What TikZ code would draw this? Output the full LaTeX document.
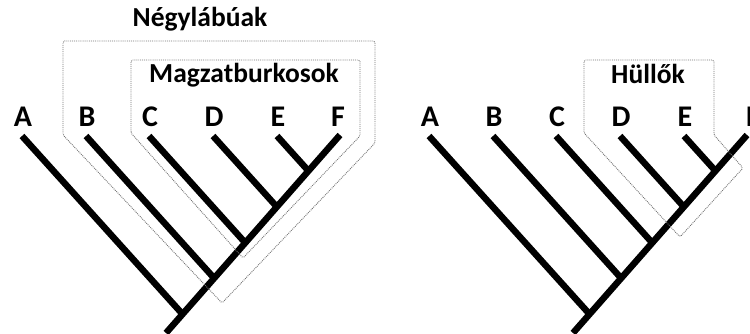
\documentclass[tikz,border=0pt]{standalone}
\usepackage{fontspec}
\setmainfont{Carlito}
\usetikzlibrary{calc}
\begin{document}
\begin{tikzpicture}[x=1pt,y=-1pt,
  branch/.style={line width=6.5pt, line cap=butt},
  clade/.style={densely dotted, draw=black!55, line width=0.9pt, rounded corners=1.5pt},
  taxon/.style={font=\fontsize{30}{32}\selectfont\bfseries, anchor=base, inner sep=0pt},
  groupname/.style={font=\fontsize{27.5}{30}\selectfont\bfseries, anchor=base, inner sep=0pt}]
\useasboundingbox (0,0) rectangle (750,334);

% two identical cladograms, the second shifted to the right
\foreach \t/\dx/\fx in {L/0/338, R/407/346} {
  \begin{scope}[xshift=\dx pt]
    \coordinate (\t root) at (166,333);
    \coordinate (\t F) at (340,135);
    \draw[branch] (\t root) -- (\t F);
    \node[taxon] (\t labF) at (\fx,127) {F};
    \foreach \n/\x in {A/22, B/86, C/149, D/213, E/277} {
      \coordinate (\t\n) at (\x,136);
      \coordinate (\t\n d) at ($(\t\n)+(155,172)$);
      \draw[branch] (\t\n) -- (intersection of \t\n--\t\n d and \t root--\t F);
      \node[taxon] (\t lab\n) at (\x+1,127) {\n};
    }
  \end{scope}
}

% Tetrapoda
\draw[clade] (63,135) -- (63,41) -- (375,41) -- (375,143) -- (222,303) -- cycle;
\node[groupname] (negy) at (200,27) {Négylábúak};

% Amniota
\draw[clade] (131,133) -- (131,60) -- (360,60) -- (360,136) -- (243,258) -- cycle;
\node[groupname] (magz) at (244,83) {Magzatburkosok};

% Reptilia
\draw[clade] (584,133) -- (584,60) -- (714,60) -- (714,135) -- (743,168) -- (680,237) -- cycle;
\node[groupname] (hull) at (648,84) {Hüllők};
\end{tikzpicture}
\end{document}
